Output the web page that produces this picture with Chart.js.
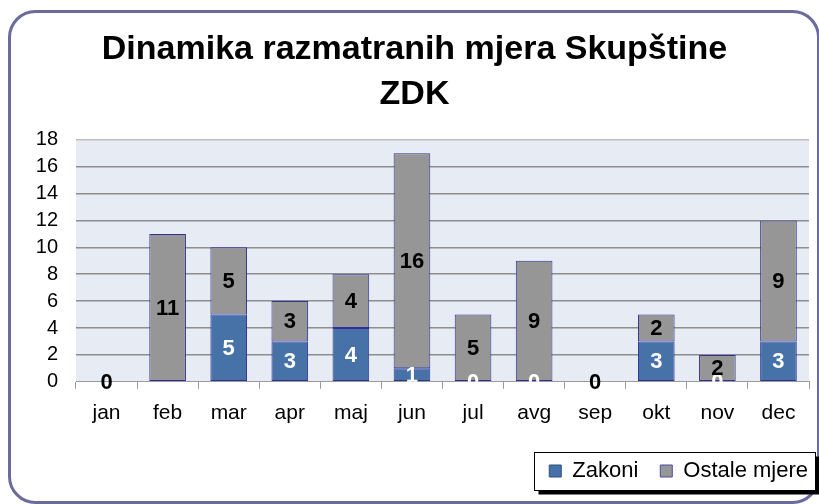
<!DOCTYPE html>
<html>
<head>
<meta charset="utf-8">
<script src="https://cdn.jsdelivr.net/npm/chart.js@4/dist/chart.umd.min.js"></script>
<style>
  html, body { margin: 0; padding: 0; background: #ffffff; }
  #wrap { width: 819px; height: 504px; }
</style>
</head>
<body>
<div id="wrap"><canvas id="c" width="819" height="504"></canvas></div>
<script>
const titleLines = ['Dinamika razmatranih mjera Skupštine', 'ZDK'];
const categories = ['jan', 'feb', 'mar', 'apr', 'maj', 'jun', 'jul', 'avg', 'sep', 'okt', 'nov', 'dec'];
const zakoni = [null, null, 5, 3, 4, 1, 0, 0, null, 3, 0, 3];
const ostaleMjere = [0, 11, 5, 3, 4, 16, 5, 9, 0, 2, 2, 9];
const seriesNames = ['Zakoni', 'Ostale mjere'];
const yTicks = [0, 2, 4, 6, 8, 10, 12, 14, 16, 18];

const FONT = "'Liberation Sans', Arial, sans-serif";

const framePlugin = {
  id: 'frame',
  beforeDraw(chart) {
    const ctx = chart.ctx;
    ctx.save();
    ctx.fillStyle = '#ffffff';
    ctx.fillRect(0, 0, chart.width, chart.height);
    const x = 9.5, y = 11.5, w = 809, h = 491, r = 26;
    ctx.beginPath();
    ctx.moveTo(x + r, y);
    ctx.lineTo(x + w - r, y);
    ctx.arcTo(x + w, y, x + w, y + r, r);
    ctx.lineTo(x + w, y + h - r);
    ctx.arcTo(x + w, y + h, x + w - r, y + h, r);
    ctx.lineTo(x + r, y + h);
    ctx.arcTo(x, y + h, x, y + h - r, r);
    ctx.lineTo(x, y + r);
    ctx.arcTo(x, y, x + r, y, r);
    ctx.closePath();
    ctx.lineWidth = 3;
    ctx.strokeStyle = '#6B6B9E';
    ctx.stroke();
    const a = chart.chartArea;
    ctx.fillStyle = '#E7EBF3';
    ctx.fillRect(a.left, a.top, a.right - a.left, a.bottom - a.top);
    ctx.restore();
  }
};

const labelPlugin = {
  id: 'barLabels',
  afterDatasetsDraw(chart) {
    const ctx = chart.ctx;
    const a = chart.chartArea;
    chart.data.datasets.forEach((ds, di) => {
      const meta = chart.getDatasetMeta(di);
      meta.data.forEach((el, i) => {
        const v = ds.data[i];
        if (v === null || v === undefined) return;
        const cy = (el.y + el.base) / 2;
        ctx.save();
        if (di === 0) {
          ctx.beginPath();
          ctx.rect(a.left, a.top, a.right - a.left, a.bottom - a.top);
          ctx.clip();
        }
        ctx.font = "bold 22px " + FONT;
        ctx.fillStyle = di === 0 ? '#ffffff' : '#000000';
        ctx.textAlign = 'center';
        ctx.textBaseline = 'middle';
        ctx.fillText(String(v), el.x, cy + 1);
        ctx.restore();
      });
    });
  }
};

const legendShiftPlugin = {
  id: 'legendShift',
  afterLayout(chart) {
    const lg = chart.legend;
    if (!lg) return;
    lg.left += 21;
    lg.right += 21;
  }
};

const legendFramePlugin = {
  id: 'legendFrame',
  afterDraw(chart) {
    const lg = chart.legend;
    if (!lg || !lg.legendHitBoxes || !lg.legendHitBoxes.length) return;
    const hb = lg.legendHitBoxes;
    const first = hb[0], last = hb[hb.length - 1];
    const left = Math.round(first.left - 15) + 0.5;
    const right = Math.round(last.left + last.width + 7) + 0.5;
    const cy = first.top + first.height / 2;
    const top = Math.round(cy - 19) + 0.5;
    const bottom = Math.round(cy + 19) + 0.5;
    const ctx = chart.ctx;
    ctx.save();
    ctx.fillStyle = '#000000';
    ctx.fillRect(left + 4, top + 4, right - left, bottom - top);
    ctx.fillStyle = '#ffffff';
    ctx.fillRect(left, top, right - left, bottom - top);
    ctx.strokeStyle = '#000000';
    ctx.lineWidth = 1;
    ctx.strokeRect(left, top, right - left, bottom - top);
    ctx.restore();
    lg.draw();
  }
};

const barBorder = (c) => (c.raw ? 1 : 0);

const chart = new Chart(document.getElementById('c'), {
  type: 'bar',
  data: {
    labels: categories,
    datasets: [
      {
        label: seriesNames[0],
        data: zakoni,
        backgroundColor: '#4672A8',
        borderColor: '#30309A',
        borderWidth: barBorder,
        borderSkipped: false,
        barPercentage: 0.6,
        categoryPercentage: 1.0
      },
      {
        label: seriesNames[1],
        data: ostaleMjere,
        backgroundColor: '#969696',
        borderColor: '#30309A',
        borderWidth: barBorder,
        borderSkipped: false,
        barPercentage: 0.6,
        categoryPercentage: 1.0
      }
    ]
  },
  options: {
    responsive: false,
    devicePixelRatio: 1,
    animation: false,
    layout: { padding: { left: 20, right: 10, top: 10, bottom: 12 } },
    plugins: {
      title: {
        display: true,
        text: titleLines,
        color: '#000000',
        font: { family: FONT, size: 34, weight: 'bold', lineHeight: 1.32 },
        padding: { top: 17, bottom: 23 }
      },
      legend: {
        display: true,
        position: 'bottom',
        align: 'end',
        labels: {
          color: '#000000',
          font: { family: FONT, size: 22 },
          boxWidth: 12,
          boxHeight: 12,
          padding: 22,
          generateLabels(chart) {
            return chart.data.datasets.map((ds, i) => ({
              text: ds.label,
              fillStyle: ds.backgroundColor,
              strokeStyle: i === 0 ? '#2F4F7F' : '#4A4AA8',
              lineWidth: 1,
              hidden: false,
              datasetIndex: i,
              fontColor: '#000000'
            }));
          }
        }
      },
      tooltip: { enabled: false }
    },
    scales: {
      x: {
        stacked: true,
        grid: { display: true, drawOnChartArea: false, drawTicks: true, tickLength: 7, color: '#9A9A9A', offset: true },
        border: { display: true, color: '#9A9A9A', width: 1 },
        ticks: { color: '#000000', font: { family: FONT, size: 21 }, padding: 12 }
      },
      y: {
        stacked: true,
        min: 0,
        max: 18,
        afterBuildTicks(scale) { scale.ticks = yTicks.map(v => ({ value: v })); },
        afterFit(scale) { scale.width = 56; },
        grid: {
          drawTicks: false,
          color(ctx) { return ctx.tick && ctx.tick.value === 18 ? '#BEBEBE' : (ctx.tick && ctx.tick.value === 0 ? 'rgba(0,0,0,0)' : '#8E8E8E'); },
          lineWidth: 1.5
        },
        border: { display: false },
        ticks: { color: '#000000', font: { family: FONT, size: 20 }, padding: 18, autoSkip: false }
      }
    }
  },
  plugins: [framePlugin, labelPlugin, legendShiftPlugin, legendFramePlugin]
});
</script>
</body>
</html>
